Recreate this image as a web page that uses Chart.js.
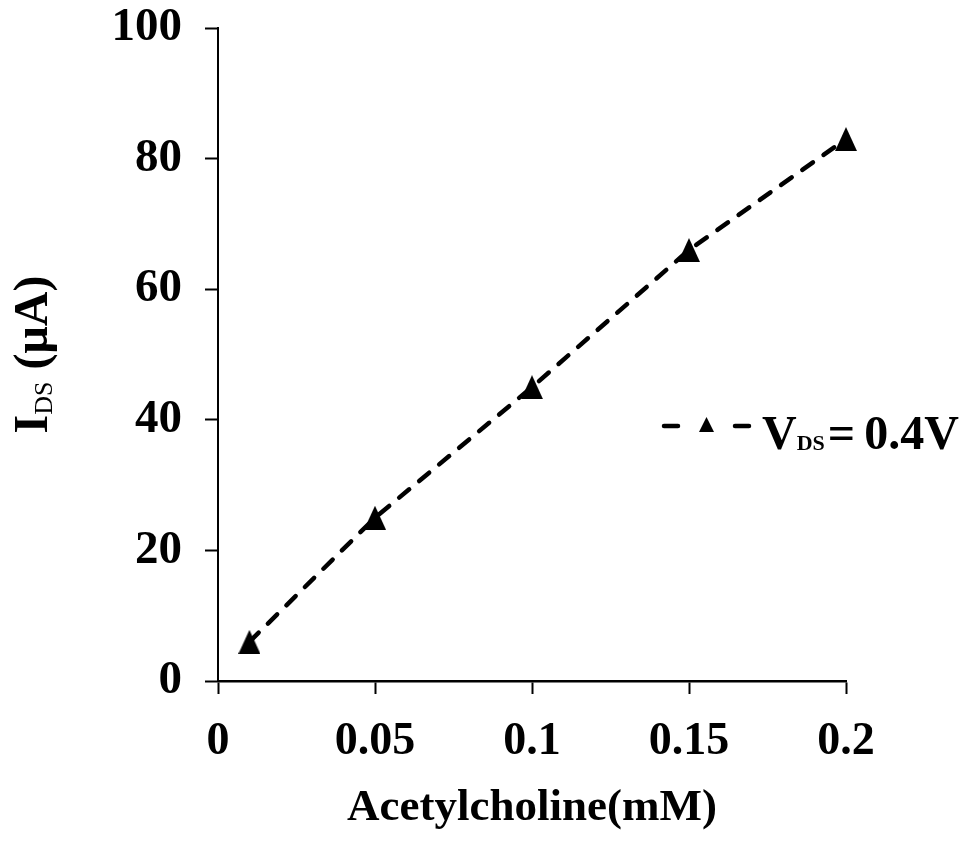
<!DOCTYPE html>
<html>
<head>
<meta charset="utf-8">
<title>IDS vs Acetylcholine</title>
<script src="https://cdn.jsdelivr.net/npm/chart.js@4.4.1/dist/chart.umd.min.js"></script>
<style>
  html, body { margin: 0; padding: 0; background: #fff; }
  #wrap { width: 960px; height: 841px; }
</style>
</head>
<body>
<div id="wrap"><canvas id="idsChart" width="960" height="841"></canvas></div>
<script>
// Acetylcholine concentration (mM) vs drain current (uA), VDS = 0.4V
const concentration = [0.01, 0.05, 0.1, 0.15, 0.2];
const currentIDS = [6, 25, 45, 66, 83];
const xTickValues = [0, 0.05, 0.1, 0.15, 0.2];
const xTickLabels = ['0', '0.05', '0.1', '0.15', '0.2'];
const yTickValues = [0, 20, 40, 60, 80, 100];
const yTickLabels = ['0', '20', '40', '60', '80', '100'];

const serif = '"Liberation Serif", "Times New Roman", serif';

// filled triangle marker, slightly taller than wide
function makeTriangle(w, h) {
  const c = document.createElement('canvas');
  c.width = w;
  c.height = h;
  const g = c.getContext('2d');
  g.fillStyle = '#000';
  g.beginPath();
  g.moveTo(w / 2, 0);
  g.lineTo(w, h);
  g.lineTo(0, h);
  g.closePath();
  g.fill();
  return c;
}
const marker = makeTriangle(22, 24);
const legendMarker = makeTriangle(15, 15);

// draws runs of text with subscripts, starting at x along the baseline
function drawRuns(ctx, runs, x, y) {
  runs.forEach(r => {
    ctx.font = r.font;
    x += r.gap || 0;
    ctx.fillText(r.t, x, y + r.dy);
    x += ctx.measureText(r.t).width;
  });
}
function runsWidth(ctx, runs) {
  let w = 0;
  runs.forEach(r => { ctx.font = r.font; w += (r.gap || 0) + ctx.measureText(r.t).width; });
  return w;
}

// y axis title and the legend both need subscripts, so draw them by hand
const extraText = {
  id: 'extraText',
  afterDraw(chart) {
    const ctx = chart.ctx;
    const area = chart.chartArea;
    ctx.save();
    ctx.fillStyle = '#000';
    ctx.textBaseline = 'alphabetic';
    ctx.textAlign = 'left';

    const yTitle = [
      { t: 'I', font: 'bold 48px ' + serif, dy: 0 },
      { t: 'DS', font: '26px ' + serif, dy: 5 },
      { t: ' (\u03bcA)', font: 'bold 48px ' + serif, dy: 0 }
    ];
    ctx.save();
    ctx.translate(47, (area.top + area.bottom) / 2);
    ctx.rotate(-Math.PI / 2);
    drawRuns(ctx, yTitle, -runsWidth(ctx, yTitle) / 2, 0);
    ctx.restore();

    // legend entry: dash, marker, dash, label
    const ly = 426;
    const ds = chart.data.datasets[0];
    ctx.strokeStyle = ds.borderColor;
    ctx.lineWidth = 4.5;
    ctx.lineCap = 'round';
    ctx.beginPath();
    ctx.moveTo(664, ly); ctx.lineTo(678, ly);
    ctx.moveTo(735, ly); ctx.lineTo(749, ly);
    ctx.stroke();
    ctx.drawImage(legendMarker, 699, ly - 9);

    const label = [
      { t: 'V', font: 'bold 48px ' + serif, dy: 0 },
      { t: 'DS', font: 'bold 22px ' + serif, dy: 1 },
      { t: '=', font: 'bold 48px ' + serif, dy: 0, gap: 3 },
      { t: '0.4V', font: 'bold 48px ' + serif, dy: 0, gap: 9 }
    ];
    drawRuns(ctx, label, 762, 449);
    ctx.restore();
  }
};

const ctx = document.getElementById('idsChart').getContext('2d');
const idsChart = new Chart(ctx, {
  type: 'line',
  data: {
    datasets: [{
      label: 'VDS = 0.4V',
      data: concentration.map((c, i) => ({ x: c, y: currentIDS[i] })),
      borderColor: '#000',
      borderWidth: 4.5,
      borderDash: [13, 13],
      borderCapStyle: 'round',
      pointStyle: marker,
      pointRadius: 12,
      tension: 0,
      fill: false,
      clip: false
    }]
  },
  options: {
    responsive: false,
    animation: false,
    devicePixelRatio: 1,
    layout: { padding: { top: 28, right: 114, left: 0, bottom: 0 } },
    plugins: {
      legend: { display: false },
      tooltip: { enabled: false }
    },
    scales: {
      x: {
        type: 'linear',
        min: 0,
        max: 0.2,
        afterBuildTicks: axis => { axis.ticks = xTickValues.map(v => ({ value: v })); },
        afterFit: axis => { axis.height = 160; axis.paddingLeft = 0; axis.paddingRight = 0; },
        ticks: {
          callback: (v, i) => xTickLabels[i],
          color: '#000',
          padding: 21,
          maxRotation: 0,
          font: { family: serif, size: 46, weight: 'bold' }
        },
        grid: { drawOnChartArea: false, drawTicks: true, tickLength: 13, tickColor: '#000', tickWidth: 2 },
        border: { display: true, color: '#000', width: 2.5 },
        title: {
          display: true,
          text: 'Acetylcholine(mM)',
          color: '#000',
          padding: { top: 0, bottom: 6 },
          font: { family: serif, size: 45, weight: 'bold' }
        }
      },
      y: {
        min: 0,
        max: 100,
        afterBuildTicks: axis => { axis.ticks = yTickValues.map(v => ({ value: v })); },
        afterFit: axis => { axis.width = 218; axis.paddingTop = 0; axis.paddingBottom = 0; },
        ticks: {
          callback: (v, i) => yTickLabels[i],
          color: '#000',
          padding: 23,
          font: { family: serif, size: 47, weight: 'bold' }
        },
        grid: { drawOnChartArea: false, drawTicks: true, tickLength: 13, tickColor: '#000', tickWidth: 2 },
        border: { display: true, color: '#000', width: 2 }
      }
    }
  },
  plugins: [extraText]
});
</script>
</body>
</html>
